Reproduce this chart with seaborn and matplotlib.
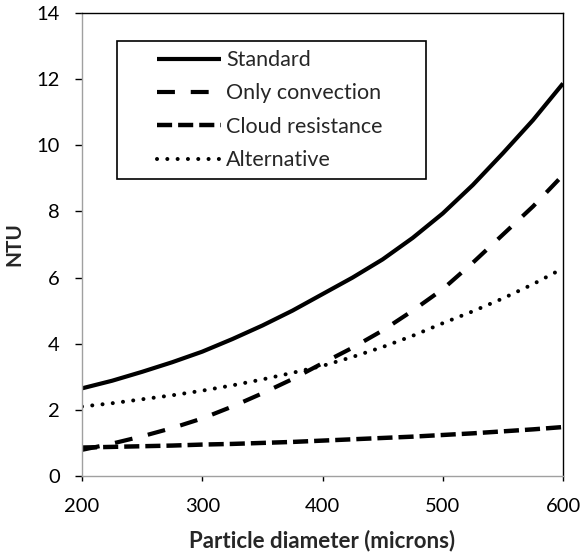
import matplotlib
matplotlib.use("Agg")
import matplotlib.pyplot as plt
from matplotlib.lines import Line2D
from matplotlib.patches import Rectangle
from matplotlib.legend_handler import HandlerLine2D
import seaborn as sns
import pandas as pd

diameter = [200, 225, 250, 275, 300, 325, 350, 375, 400, 425, 450, 475, 500, 525, 550, 575, 600]
standard = [2.65, 2.88, 3.15, 3.44, 3.76, 4.14, 4.55, 5.00, 5.50, 6.00, 6.55, 7.20, 7.94, 8.80, 9.76, 10.76, 11.87]
only_convection = [0.79, 0.98, 1.20, 1.45, 1.74, 2.10, 2.50, 2.93, 3.41, 3.88, 4.40, 5.00, 5.65, 6.45, 7.30, 8.15, 9.10]
cloud_resistance = [0.86, 0.88, 0.90, 0.92, 0.95, 0.97, 1.00, 1.03, 1.07, 1.11, 1.15, 1.19, 1.24, 1.29, 1.35, 1.41, 1.48]
alternative = [2.10, 2.20, 2.32, 2.44, 2.58, 2.74, 2.92, 3.12, 3.33, 3.60, 3.90, 4.24, 4.62, 4.98, 5.37, 5.80, 6.28]
series_names = ["Standard", "Only convection", "Cloud resistance", "Alternative"]

sns.set_theme(style="white")
plt.rcParams['font.family'] = ['Lato', 'DejaVu Sans']

frames = []
for name, vals in zip(series_names, [standard, only_convection, cloud_resistance, alternative]):
    frames.append(pd.DataFrame({"d": diameter, "ntu": vals, "series": name}))
df = pd.concat(frames)

fig = plt.figure(figsize=(5.82, 5.56), dpi=100)
ax = fig.add_axes([0.1409, 0.1439, 0.8265, 0.8327])

styles = {
    "Standard": dict(lw=3.0, dashes=None, cap="butt"),
    "Only convection": dict(lw=3.0, dashes=(4.3, 3.8), cap="butt"),
    "Cloud resistance": dict(lw=3.2, dashes=(3.4, 1.35), cap="butt"),
    "Alternative": dict(lw=2.9, dashes=(0.01, 2.55), cap="round"),
}
for name in series_names:
    sub = df[df.series == name]
    st = styles[name]
    sns.lineplot(data=sub, x="d", y="ntu", ax=ax, color="black", lw=st["lw"],
                 label=name, estimator=None, sort=True)
    l = ax.get_lines()[-1]
    if st["dashes"] is not None:
        l.set_dashes(st["dashes"])
    l.set_dash_capstyle(st["cap"])
    l.set_solid_capstyle("butt")

ax.set_xlim(200, 600)
ax.set_ylim(0, 14)
ax.set_xticks([200, 300, 400, 500, 600])
ax.set_yticks(range(0, 15, 2))
ax.tick_params(axis="x", labelsize=14.5, colors="black", length=3.6, width=1,
               direction="out", bottom=True, pad=12)
ax.tick_params(axis="y", labelsize=14.5, colors="black", length=5, width=1,
               direction="out", left=True, pad=11)
for t in ax.get_xticklines() + ax.get_yticklines():
    t.set_color("#A0A0A0")
ax.spines["left"].set_color("#A0A0A0")
ax.spines["bottom"].set_color("#A0A0A0")
ax.spines["top"].set_color("black")
ax.spines["right"].set_color("black")
for s in ax.spines.values():
    s.set_linewidth(1.0)

ax.set_xlabel("Particle diameter (microns)", fontsize=16, fontweight="bold", labelpad=11)
ax.set_ylabel("NTU", fontsize=15, fontweight="bold", labelpad=9)


class LeftPadHandler(HandlerLine2D):
    def __init__(self, pad_pt=22.5, **kw):
        super().__init__(**kw)
        self.pad_pt = pad_pt

    def create_artists(self, legend, orig_handle, xdescent, ydescent, width, height,
                       fontsize, trans):
        p = self.pad_pt
        return super().create_artists(legend, orig_handle, xdescent - p, ydescent,
                                      width - p, height, fontsize, trans)


handles, labels = ax.get_legend_handles_labels()
leg = ax.legend(handles, labels, loc="upper left",
                bbox_to_anchor=(0.0728, 0.9395),
                fontsize=15.5, frameon=True, fancybox=False,
                handlelength=4.42, handletextpad=0.23, borderpad=0.42,
                labelspacing=0.62, borderaxespad=0,
                handler_map={Line2D: LeftPadHandler(pad_pt=22.5)})
leg.get_frame().set_edgecolor("none")
leg.get_frame().set_facecolor("none")

# Frame box for the legend, wider than its content as in the reference
fig.canvas.draw()
bb = leg.get_window_extent().transformed(ax.transAxes.inverted())
frame = Rectangle((bb.x0, bb.y0), 0.642, bb.height, transform=ax.transAxes,
                  facecolor="white", edgecolor="black", lw=1.2, zorder=4.9,
                  clip_on=False)
ax.add_patch(frame)

fig.savefig("out.png", dpi=100)
